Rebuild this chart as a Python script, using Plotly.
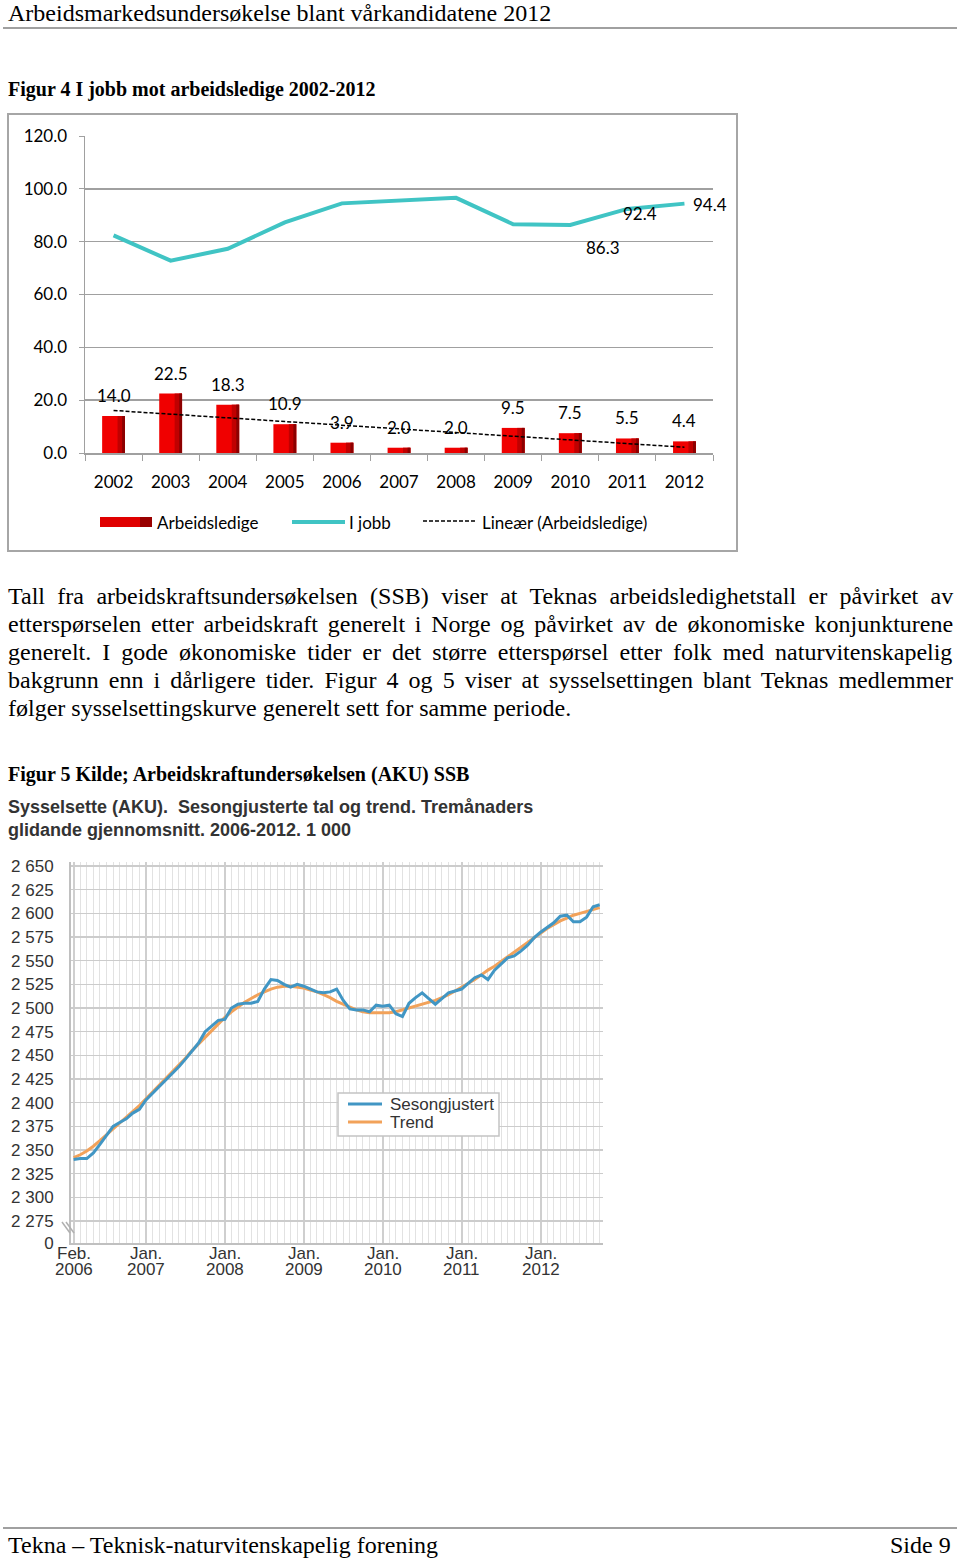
import numpy as np
import plotly.graph_objects as go

W, H = 960, 1559

# ---- Figur 4 data ----
years = ["2002", "2003", "2004", "2005", "2006", "2007", "2008", "2009", "2010", "2011", "2012"]
arbeidsledige = [14.0, 22.5, 18.3, 10.9, 3.9, 2.0, 2.0, 9.5, 7.5, 5.5, 4.4]
i_jobb = [82.4, 72.8, 77.3, 87.3, 94.5, 95.6, 96.6, 86.6, 86.3, 92.4, 94.4]
i_jobb_labelled = ["2010", "2011", "2012"]

# ---- Figur 5 data (1 000 sysselsatte, Feb. 2006 ->) ----
sesongjustert = [
    2340, 2341, 2341, 2347, 2356, 2366, 2375, 2379, 2383, 2389,
    2393, 2403, 2410, 2416, 2423, 2430, 2438, 2446, 2454, 2463,
    2475, 2481, 2487, 2488, 2500, 2504, 2505, 2505, 2507, 2520,
    2530, 2529, 2525, 2522, 2525, 2523, 2520, 2517, 2516, 2517,
    2520, 2508, 2499, 2498, 2498, 2496, 2503, 2502, 2503, 2494,
    2491, 2505, 2511, 2516, 2510, 2504, 2510, 2516, 2518, 2520,
    2526, 2532, 2535, 2530, 2540, 2546, 2553, 2555, 2560, 2566,
    2574, 2580, 2585, 2590, 2597, 2598, 2591, 2591, 2596, 2607,
    2609,
]
trend = [
    2342, 2345, 2349, 2354, 2360, 2366, 2372, 2378, 2384, 2390,
    2397, 2404, 2411, 2418, 2425, 2432, 2440, 2447, 2455, 2462,
    2470, 2477, 2484, 2490, 2496, 2501, 2506, 2510, 2514, 2517,
    2520, 2522, 2523, 2523, 2522, 2521, 2519, 2517, 2514, 2511,
    2507, 2504, 2501, 2498, 2496, 2495, 2495, 2495, 2495, 2496,
    2498, 2500, 2502, 2504, 2506, 2508, 2511, 2514, 2518, 2522,
    2526, 2530, 2535, 2540, 2544, 2549, 2554, 2559, 2564, 2569,
    2574, 2579, 2584, 2588, 2592, 2595, 2598, 2600, 2602, 2604,
    2606,
]
months = list(range(len(sesongjustert)))
month_ticks = [0, 11, 23, 35, 47, 59, 71]
month_names = ["Feb.", "Jan.", "Jan.", "Jan.", "Jan.", "Jan.", "Jan."]
month_years = ["2006", "2007", "2008", "2009", "2010", "2011", "2012"]
y2_ticks = [2252, 2275, 2300, 2325, 2350, 2375, 2400, 2425, 2450, 2475, 2500,
            2525, 2550, 2575, 2600, 2625, 2650]
y2_ticktext = ["0", "2 275", "2 300", "2 325", "2 350", "2 375", "2 400", "2 425", "2 450",
               "2 475", "2 500", "2 525", "2 550", "2 575", "2 600", "2 625", "2 650"]

paragraph = [
    "Tall fra arbeidskraftsundersøkelsen (SSB) viser at Teknas arbeidsledighetstall er påvirket av",
    "etterspørselen etter arbeidskraft generelt i Norge og påvirket av de økonomiske konjunkturene",
    "generelt. I gode økonomiske tider er det større etterspørsel etter folk med naturvitenskapelig",
    "bakgrunn enn i dårligere tider. Figur 4 og 5 viser at sysselsettingen blant Teknas medlemmer",
    "følger sysselsettingskurve generelt sett for samme periode.",
]
# extra word spacing (px) to justify the paragraph lines
word_spacing = [6.4, 3.75, 5.0, 4.1, 0]


def px(x):
    return x / W


def py(y):
    return 1 - y / H


SERIF = "Liberation Serif, Times New Roman, serif"
CAL = "Lato, Open Sans, sans-serif"
ARIAL = "Liberation Sans, Arial, sans-serif"
BLUE = "#4196C4"
ORANGE = "#F2A25A"

fig = go.Figure()

# bars (three layers to fake the excel gradient)
fig.add_trace(go.Bar(x=years, y=arbeidsledige, width=0.4, offset=-0.2,
                     marker=dict(color="#F00000", line=dict(width=0)),
                     showlegend=False, xaxis="x", yaxis="y"))
fig.add_trace(go.Bar(x=years, y=arbeidsledige, width=0.13, offset=0.07,
                     marker=dict(color="#C00000", line=dict(width=0)),
                     showlegend=False, xaxis="x", yaxis="y"))
fig.add_trace(go.Bar(x=years, y=arbeidsledige, width=0.05, offset=0.15,
                     marker=dict(color="#8C0000", line=dict(width=0)),
                     showlegend=False, xaxis="x", yaxis="y"))

# linear trend of the bars
coef = np.polyfit(np.arange(len(years)), arbeidsledige, 1)
fit = np.polyval(coef, np.arange(len(years)))
fig.add_trace(go.Scatter(x=years, y=fit, mode="lines",
                         line=dict(color="black", width=1.5, dash="4px,2px"),
                         showlegend=False, xaxis="x", yaxis="y"))

fig.add_trace(go.Scatter(x=years, y=i_jobb, mode="lines",
                         line=dict(color="#40C4C4", width=4),
                         showlegend=False, xaxis="x", yaxis="y"))

# figur 5 lines
fig.add_trace(go.Scatter(x=months, y=trend, mode="lines", name="Trend",
                         line=dict(color=ORANGE, width=3),
                         showlegend=False, xaxis="x2", yaxis="y2"))
fig.add_trace(go.Scatter(x=months, y=sesongjustert, mode="lines", name="Sesongjustert",
                         line=dict(color=BLUE, width=3),
                         showlegend=False, xaxis="x2", yaxis="y2"))

annotations = []

# bar value labels (category index as x)
for k, v in enumerate(arbeidsledige):
    annotations.append(dict(x=k, y=v, xref="x", yref="y", text=f"{v:.1f}",
                            showarrow=False, yanchor="bottom", yshift=8,
                            font=dict(family=CAL, size=17, color="black")))
# line value labels
shifts = {"2010": (33, -22), "2011": (13, -5), "2012": (26, -1)}
for k, (yr, v) in enumerate(zip(years, i_jobb)):
    if yr in i_jobb_labelled:
        dx, dy = shifts[yr]
        annotations.append(dict(x=k, y=v, xref="x", yref="y", text=f"{v:.1f}",
                                showarrow=False, xshift=dx, yshift=dy,
                                font=dict(family=CAL, size=17, color="black")))

# figur 5 x tick labels (two tight lines)
for t, mname, yname in zip(month_ticks, month_names, month_years):
    for s, yy in ((mname, 1253), (yname, 1269)):
        annotations.append(dict(x=t, y=py(yy), xref="x2", yref="paper", text=s,
                                showarrow=False, xanchor="center", yanchor="middle",
                                font=dict(family=ARIAL, size=17, color="#333333")))


def txt(x, y, s, size, family=SERIF, color="black", xanchor="left", yanchor="middle"):
    annotations.append(dict(x=px(x), y=py(y), xref="paper", yref="paper", text=s,
                            showarrow=False, xanchor=xanchor, yanchor=yanchor, align="left",
                            font=dict(family=family, size=size, color=color)))


txt(6, 13, "Arbeidsmarkedsundersøkelse blant vårkandidatene 2012", 24)
txt(6, 89, "<b>Figur 4 I jobb mot arbeidsledige 2002-2012</b>", 20)

# chart 1 legend texts
txt(155, 522, "Arbeidsledige", 17, CAL)
txt(347, 522, "I jobb", 17, CAL)
txt(480, 522, "Lineær (Arbeidsledige)", 17, CAL)

for k, line in enumerate(paragraph):
    s = line
    if word_spacing[k]:
        s = f'<span style="word-spacing:{word_spacing[k]}px">{line}</span>'
    txt(6, 596 + 28 * k, s, 24)

txt(6, 774, "<b>Figur 5 Kilde; Arbeidskraftundersøkelsen (AKU) SSB</b>", 20)
txt(6, 795, "<b>Sysselsette (AKU).  Sesongjusterte tal og trend. Tremånaders<br>"
            "glidande gjennomsnitt. 2006-2012. 1 000</b>", 18, ARIAL, "#333333", yanchor="top")

# figur 5 legend texts
txt(388, 1104, "Sesongjustert", 17, ARIAL, "#333333")
txt(388, 1122, "Trend", 17, ARIAL, "#333333")

txt(6, 1545, "Tekna – Teknisk-naturvitenskapelig forening", 24)
txt(953, 1545, "Side 9", 24, xanchor="right")


def pline(x0, y0, x1, y1, color, width, dash=None):
    d = dict(type="line", xref="paper", yref="paper", x0=px(x0), x1=px(x1),
             y0=py(y0), y1=py(y1), line=dict(color=color, width=width))
    if dash:
        d["line"]["dash"] = dash
    return d


def prect(x0, y0, x1, y1, fill=None, line_color=None, width=0):
    return dict(type="rect", xref="paper", yref="paper", x0=px(x0), x1=px(x1),
                y0=py(y0), y1=py(y1), fillcolor=fill or "rgba(0,0,0,0)",
                line=dict(color=line_color or "rgba(0,0,0,0)", width=width))


shapes = [
    pline(3, 28, 957, 28, "#A0A0A0", 2),
    pline(3, 1528, 957, 1528, "#A0A0A0", 2),
    prect(8, 114, 737, 551, line_color="#A6A6A6", width=2),
    # chart 1 legend swatches
    prect(100, 517, 152, 527, fill="#E00000"),
    prect(140, 517, 152, 527, fill="#990000"),
    pline(292, 522, 345, 522, "#40C4C4", 4),
    pline(423, 521, 475, 521, "black", 1.5, "4px,2px"),
    # chart 2 legend
    prect(338, 1093, 499, 1136, fill="white", line_color="#C4C4C4", width=1.5),
    pline(348, 1104, 382, 1104, BLUE, 3),
    pline(348, 1122, 382, 1122, ORANGE, 3),
    # axis break marks
    pline(62, 1222, 70, 1233, "#B0B0B0", 1.5),
    pline(66, 1222, 74, 1233, "#B0B0B0", 1.5),
]

fig.update_layout(
    template="none",
    width=W, height=H,
    margin=dict(l=0, r=0, t=0, b=0, autoexpand=False),
    paper_bgcolor="white", plot_bgcolor="white",
    barmode="overlay",
    showlegend=False,
    hovermode=False,
    annotations=annotations,
    shapes=shapes,
    xaxis=dict(domain=[px(85), px(713)], anchor="y", type="category",
               range=[-0.5, 10.5], automargin=False, tickangle=0,
               showgrid=False, showline=True, linecolor="#A0A0A0", linewidth=1.5,
               ticks="outside", tickson="boundaries", ticklen=6, tickcolor="#A0A0A0",
               tickfont=dict(family=CAL, size=17, color="black"), ticklabelstandoff=13),
    yaxis=dict(domain=[py(453), py(136)], anchor="x", range=[0, 120], dtick=20,
               automargin=False,
               tickformat=".1f", showgrid=True, gridcolor="#A0A0A0", gridwidth=1.5,
               showline=True, linecolor="#A0A0A0", linewidth=1.5, zeroline=False,
               ticks="outside", ticklen=5, tickcolor="#A0A0A0",
               tickfont=dict(family=CAL, size=17, color="black"), ticklabelstandoff=8),
    xaxis2=dict(domain=[px(71), px(603)], anchor="y2", range=[-0.4, 80.5],
                automargin=False, showticklabels=False,
                tickmode="array", tickvals=month_ticks,
                showgrid=True, gridcolor="#CFCFCF", gridwidth=2,
                minor=dict(tickmode="linear", tick0=0, dtick=1, showgrid=True,
                           gridcolor="#E2E2E2", gridwidth=1),
                showline=True, linecolor="#C0C0C0", linewidth=2, zeroline=False, ticks=""),
    yaxis2=dict(domain=[py(1243), py(862)], anchor="x2", range=[2251.8, 2654.2],
                automargin=False,
                tickmode="array", tickvals=y2_ticks, ticktext=y2_ticktext,
                showgrid=True, gridcolor="#CCCCCC", gridwidth=1.5,
                showline=True, linecolor="#C0C0C0", linewidth=2, zeroline=False, ticks="",
                tickfont=dict(family=ARIAL, size=17, color="#333333"), ticklabelstandoff=12),
)

# drop the default 8px body margin so the page lines up with the window
fig.write_html("out.html", config={"displayModeBar": False, "staticPlot": True},
               post_script="document.body.style.margin='0';")
